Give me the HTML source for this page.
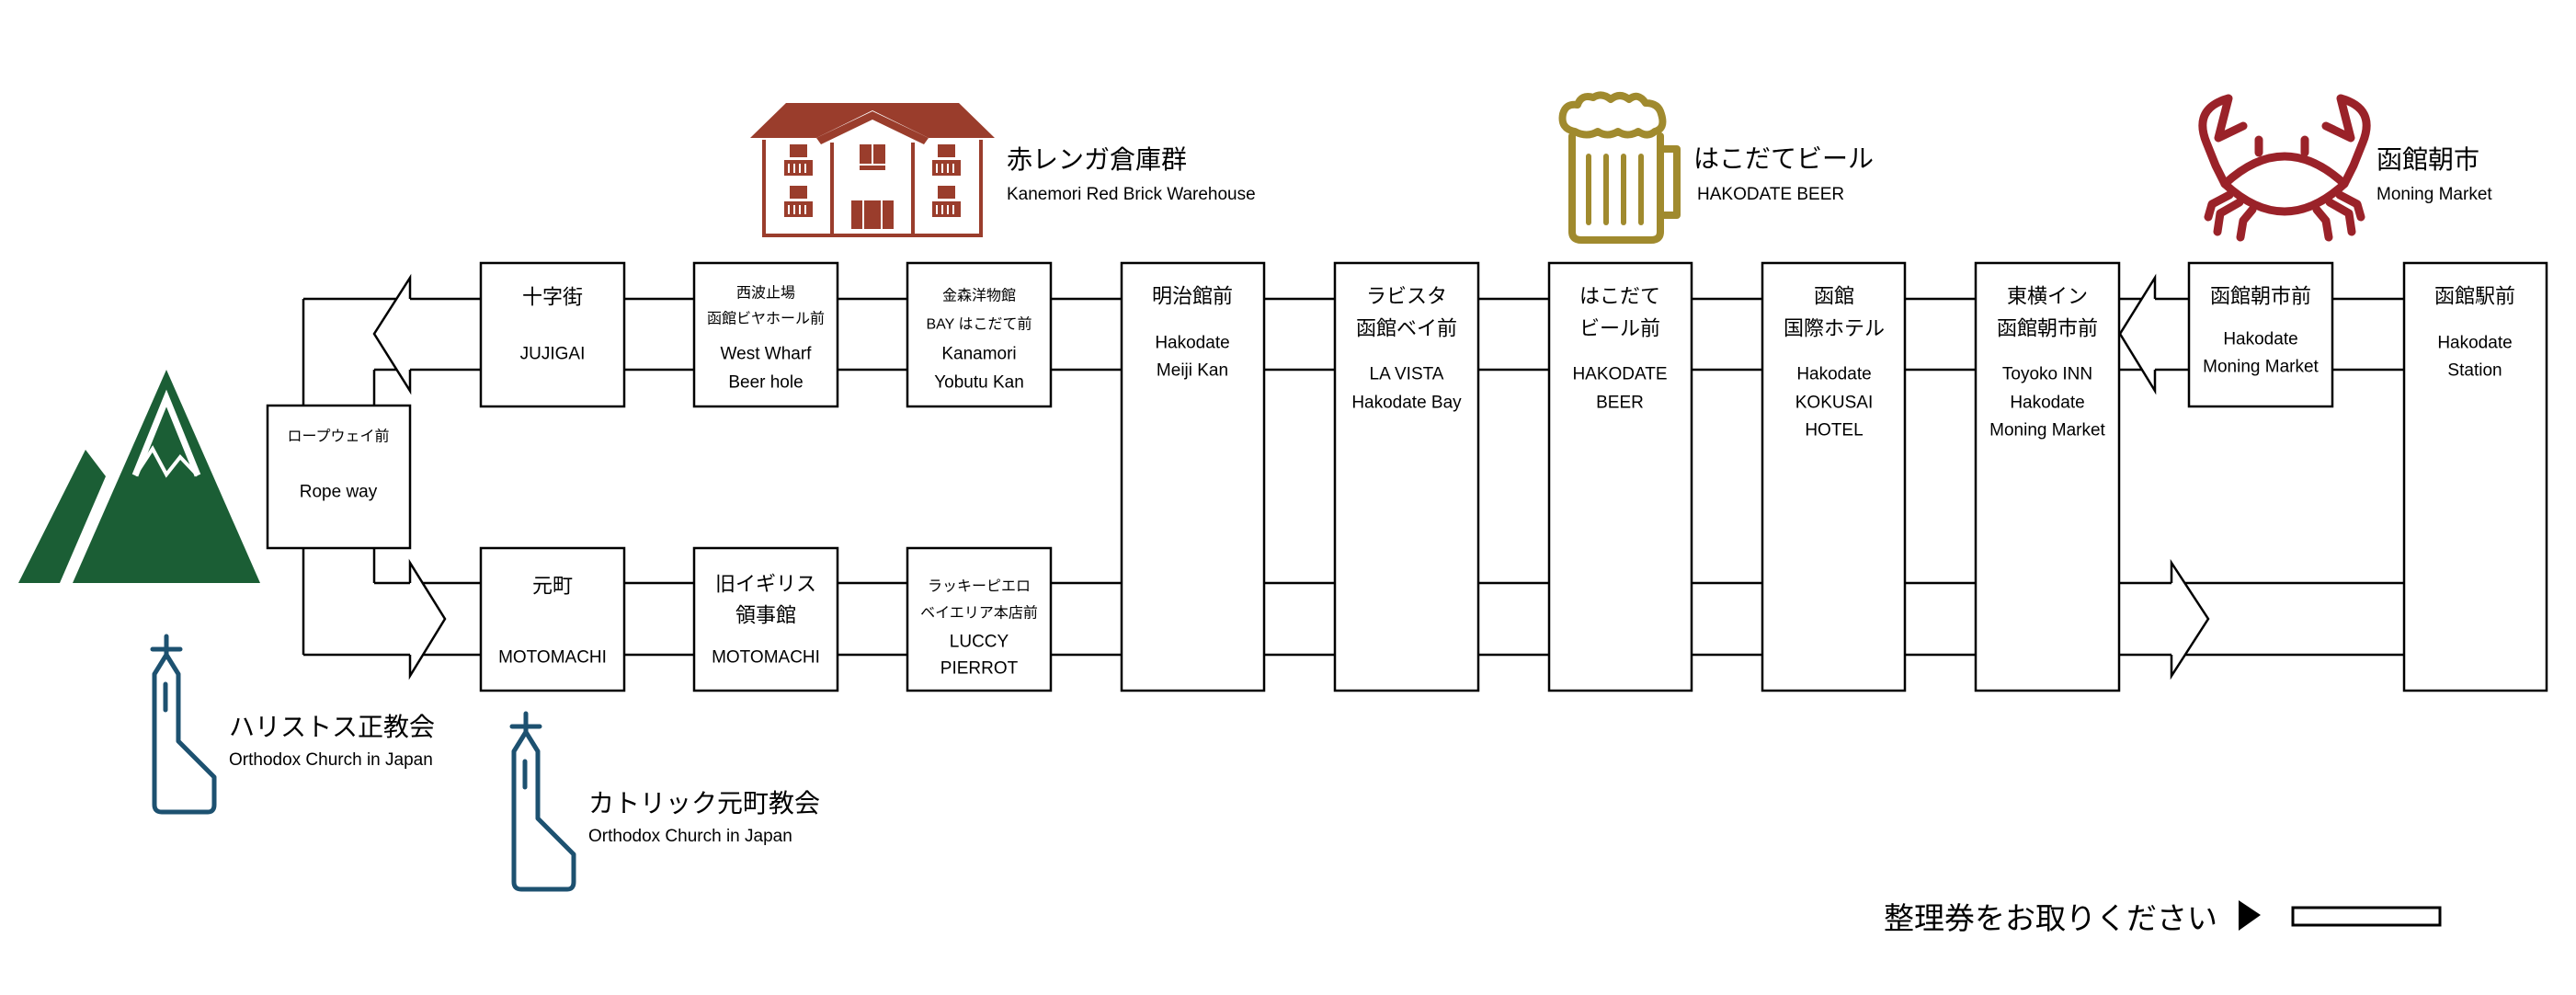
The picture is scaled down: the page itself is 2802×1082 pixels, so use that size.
<!DOCTYPE html>
<html><head><meta charset="utf-8"><style>
html,body{margin:0;padding:0;background:#fff;}
svg{display:block;}
text{font-family:"Liberation Sans","Noto Sans CJK JP",sans-serif;fill:#000;}
.c{text-anchor:middle;dominant-baseline:central;}
.j{font-size:22px;}
.e{font-size:19px;}
.s{font-size:16px;}
.bx{fill:#fff;stroke:#000;stroke-width:2.5;}
.ln{stroke:#000;stroke-width:2.5;fill:none;}
</style></head><body>
<svg width="2802" height="1082" viewBox="0 0 2802 1082" xmlns="http://www.w3.org/2000/svg">
<line class="ln" x1="330" y1="325" x2="2615" y2="325"/>
<line class="ln" x1="407" y1="402" x2="2615" y2="402"/>
<line class="ln" x1="407" y1="634" x2="2615" y2="634"/>
<line class="ln" x1="330" y1="712" x2="2615" y2="712"/>
<line class="ln" x1="330" y1="325" x2="330" y2="712"/>
<line class="ln" x1="407" y1="402" x2="407" y2="441"/>
<line class="ln" x1="407" y1="596" x2="407" y2="634"/>

<polygon points="446,302 407,363 446,425" fill="#fff"/>
<polyline class="ln" points="446,325 446,302 407,363 446,425 446,402"/>
<polygon points="446,612 484,673 446,735" fill="#fff"/>
<polyline class="ln" points="446,634 446,612 484,673 446,735 446,712"/>
<polygon points="2344,302 2306,363 2344,425" fill="#fff"/>
<polyline class="ln" points="2344,325 2344,302 2306,363 2344,425 2344,402"/>
<polygon points="2362,612 2402,673 2362,735" fill="#fff"/>
<polyline class="ln" points="2362,634 2362,612 2402,673 2362,735 2362,712"/>

<rect class="bx" x="291" y="441" width="155" height="155"/>
<rect class="bx" x="523" y="286" width="156" height="156"/>
<rect class="bx" x="755" y="286" width="156" height="156"/>
<rect class="bx" x="987" y="286" width="156" height="156"/>
<rect class="bx" x="523" y="596" width="156" height="155"/>
<rect class="bx" x="755" y="596" width="156" height="155"/>
<rect class="bx" x="987" y="596" width="156" height="155"/>
<rect class="bx" x="1220" y="286" width="155" height="465"/>
<rect class="bx" x="1452" y="286" width="156" height="465"/>
<rect class="bx" x="1685" y="286" width="155" height="465"/>
<rect class="bx" x="1917" y="286" width="155" height="465"/>
<rect class="bx" x="2149" y="286" width="156" height="465"/>
<rect class="bx" x="2381" y="286" width="156" height="156"/>
<rect class="bx" x="2615" y="286" width="155" height="465"/>

<text class="c s" x="368" y="475">ロープウェイ前</text>
<text class="c e" x="368" y="535">Rope way</text>

<text class="c j" x="601" y="323">十字街</text>
<text class="c e" x="601" y="385">JUJIGAI</text>

<text class="c s" x="833" y="319">西波止場</text>
<text class="c s" x="833" y="347">函館ビヤホール前</text>
<text class="c e" x="833" y="385">West Wharf</text>
<text class="c e" x="833" y="416">Beer hole</text>

<text class="c s" x="1065" y="322">金森洋物館</text>
<text class="c s" x="1065" y="353">BAY はこだて前</text>
<text class="c e" x="1065" y="385">Kanamori</text>
<text class="c e" x="1065" y="416">Yobutu Kan</text>

<text class="c j" x="601" y="637">元町</text>
<text class="c e" x="601" y="715">MOTOMACHI</text>

<text class="c j" x="833" y="635">旧イギリス</text>
<text class="c j" x="833" y="669">領事館</text>
<text class="c e" x="833" y="715">MOTOMACHI</text>

<text class="c s" x="1065" y="638">ラッキーピエロ</text>
<text class="c s" x="1065" y="667">ベイエリア本店前</text>
<text class="c e" x="1065" y="698">LUCCY</text>
<text class="c e" x="1065" y="727">PIERROT</text>

<text class="c j" x="1297" y="322">明治館前</text>
<text class="c e" x="1297" y="373">Hakodate</text>
<text class="c e" x="1297" y="403">Meiji Kan</text>

<text class="c j" x="1530" y="322">ラビスタ</text>
<text class="c j" x="1530" y="357">函館ベイ前</text>
<text class="c e" x="1530" y="407">LA VISTA</text>
<text class="c e" x="1530" y="438">Hakodate Bay</text>

<text class="c j" x="1762" y="322">はこだて</text>
<text class="c j" x="1762" y="357">ビール前</text>
<text class="c e" x="1762" y="407">HAKODATE</text>
<text class="c e" x="1762" y="438">BEER</text>

<text class="c j" x="1995" y="322">函館</text>
<text class="c j" x="1995" y="357">国際ホテル</text>
<text class="c e" x="1995" y="407">Hakodate</text>
<text class="c e" x="1995" y="438">KOKUSAI</text>
<text class="c e" x="1995" y="468">HOTEL</text>

<text class="c j" x="2227" y="322">東横イン</text>
<text class="c j" x="2227" y="357">函館朝市前</text>
<text class="c e" x="2227" y="407">Toyoko INN</text>
<text class="c e" x="2227" y="438">Hakodate</text>
<text class="c e" x="2227" y="468">Moning Market</text>

<text class="c j" x="2459" y="322">函館朝市前</text>
<text class="c e" x="2459" y="369">Hakodate</text>
<text class="c e" x="2459" y="399">Moning Market</text>

<text class="c j" x="2692" y="322">函館駅前</text>
<text class="c e" x="2692" y="373">Hakodate</text>
<text class="c e" x="2692" y="403">Station</text>

<!-- mountain -->
<g fill="#1b5e35">
<polygon points="20,634 93,489 115,518 65,634"/>
<polygon points="181,402 79,634 283,634"/>
</g>
<polyline points="147,517 181,433 215,517" fill="none" stroke="#fff" stroke-width="7"/>
<polyline points="147,517 166,488 181,516 196,497 215,517" fill="none" stroke="#fff" stroke-width="4"/>

<!-- churches -->
<g fill="none" stroke="#1d5170" stroke-width="5" stroke-linecap="round" stroke-linejoin="round">
<line x1="181" y1="692" x2="181" y2="712"/>
<line x1="166" y1="706" x2="196" y2="706"/>
<path d="M181,712 L168,733 L168,875 Q168,883 176,883 L226,883 Q233,883 233,875 L233,845 L194,806 L194,733 Z"/>
<line x1="180" y1="744" x2="180" y2="772"/>
</g>
<g fill="none" stroke="#1d5170" stroke-width="5" stroke-linecap="round" stroke-linejoin="round">
<line x1="572" y1="776" x2="572" y2="796"/>
<line x1="557" y1="790" x2="587" y2="790"/>
<path d="M572,796 L559,817 L559,959 Q559,967 567,967 L617,967 Q624,967 624,959 L624,929 L585,890 L585,817 Z"/>
<line x1="571" y1="828" x2="571" y2="856"/>
</g>
<text x="249" y="800" style="font-size:28px">ハリストス正教会</text>
<text x="249" y="832" style="font-size:19px">Orthodox Church in Japan</text>
<text x="640" y="883" style="font-size:28px">カトリック元町教会</text>
<text x="640" y="915" style="font-size:19px">Orthodox Church in Japan</text>

<!-- house -->
<g fill="#9a3d2c">
<polygon points="855,112 1043,112 1082,150 1010,150 949,120 888,150 816,150"/>
<polygon points="888,150 949,121 1010,150 1005,157 949,130 893,157"/>
<rect x="859" y="157" width="19" height="14"/>
<rect x="853" y="174" width="31" height="17"/>
<rect x="859" y="202" width="19" height="14"/>
<rect x="853" y="219" width="31" height="17"/>
<rect x="1020" y="157" width="19" height="14"/>
<rect x="1014" y="174" width="31" height="17"/>
<rect x="1020" y="202" width="19" height="14"/>
<rect x="1014" y="219" width="31" height="17"/>
<rect x="935" y="157" width="28" height="21"/>
<rect x="935" y="180" width="28" height="5"/>
<rect x="926" y="218" width="46" height="31"/>
</g>
<g stroke="#fff" stroke-width="2">
<line x1="949" y1="157" x2="949" y2="178"/>
<line x1="939" y1="218" x2="939" y2="249"/><line x1="959" y1="218" x2="959" y2="249"/>
<path d="M858,178v10M864,178v10M870,178v10M876,178v10M858,223v10M864,223v10M870,223v10M876,223v10M1019,178v10M1025,178v10M1031,178v10M1037,178v10M1019,223v10M1025,223v10M1031,223v10M1037,223v10"/>
</g>
<g fill="none" stroke="#9a3d2c" stroke-width="4">
<polyline points="831,152 831,256 1067,256 1067,152"/>
<line x1="905" y1="155" x2="905" y2="256"/>
<line x1="993" y1="155" x2="993" y2="256"/>
</g>
<text x="1095" y="183" style="font-size:28px">赤レンガ倉庫群</text>
<text x="1095" y="217" style="font-size:19px">Kanemori Red Brick Warehouse</text>

<!-- beer -->
<g fill="none" stroke="#a08a2e" stroke-width="8" stroke-linecap="round" stroke-linejoin="round">
<path d="M1710,148 L1710,252 Q1710,261 1720,261 L1796,261 Q1806,261 1806,252 L1806,148"/>
<path d="M1806,162 L1824,162 L1824,234 L1806,234"/>
<path d="M1713,143 Q1697,140 1700,124 Q1703,112 1716,114 Q1720,102 1733,106 Q1742,100 1752,108 Q1762,100 1772,108 Q1782,100 1790,112 Q1804,112 1807,124 Q1812,140 1800,143 Q1792,150 1782,143 Q1770,150 1760,143 Q1748,150 1738,143 Q1726,150 1713,143 Z"/>
<line x1="1728" y1="170" x2="1728" y2="242" stroke-width="6"/>
<line x1="1747" y1="170" x2="1747" y2="242" stroke-width="6"/>
<line x1="1766" y1="170" x2="1766" y2="242" stroke-width="6"/>
<line x1="1785" y1="170" x2="1785" y2="242" stroke-width="6"/>
</g>
<text x="1842" y="182" style="font-size:28px">はこだてビール</text>
<text x="1846" y="217" style="font-size:19px">HAKODATE BEER</text>

<!-- crab -->
<g fill="none" stroke="#9a2229" stroke-width="9" stroke-linecap="round" stroke-linejoin="round">
<path d="M2420,200 Q2485,140 2550,200 Q2485,260 2420,200 Z"/>
<line x1="2457" y1="152" x2="2457" y2="166"/>
<line x1="2507" y1="152" x2="2507" y2="166"/>
<path d="M2420,200 L2410,180 L2400,155 Q2385,118 2424,107 L2413,150 L2440,137"/>
<path d="M2550,200 L2560,180 L2570,155 Q2585,118 2546,107 L2557,150 L2530,137"/>
<path d="M2425,212 L2406,222 L2402,236"/>
<path d="M2436,220 L2415,232 L2412,252"/>
<path d="M2450,228 L2440,240 L2437,258"/>
<path d="M2545,212 L2564,222 L2568,236"/>
<path d="M2534,220 L2555,232 L2558,252"/>
<path d="M2520,228 L2530,240 L2533,258"/>
</g>
<text x="2585" y="183" style="font-size:28px">函館朝市</text>
<text x="2585" y="217" style="font-size:19px">Moning Market</text>

<text x="2049" y="1010" style="font-size:33px">整理券をお取りください</text>
<polygon points="2435,979 2459,995 2435,1012" fill="#000"/>
<rect x="2494" y="987" width="160" height="19" fill="#fff" stroke="#000" stroke-width="3"/>
</svg>
</body></html>
